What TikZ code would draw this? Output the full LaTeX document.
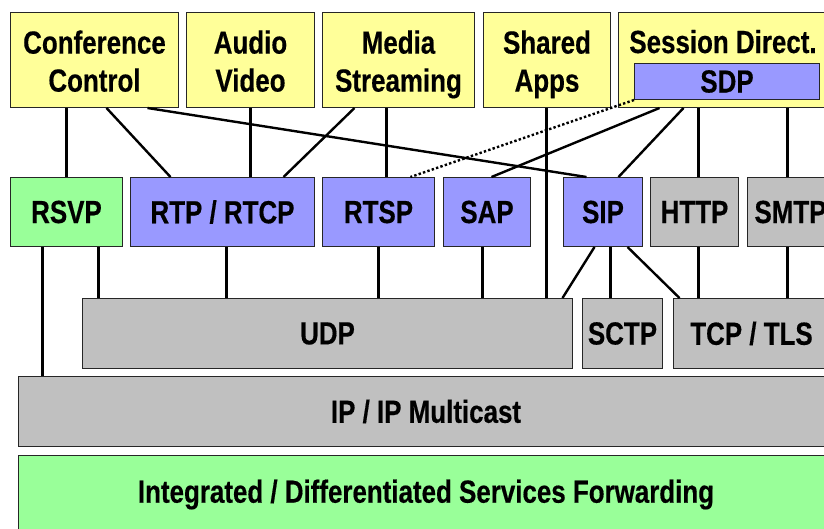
\documentclass[tikz,border=0pt]{standalone}
\usepackage{fontspec}
\setmainfont{Liberation Sans}[FakeStretch=0.81,FakeBold=0.4]
\definecolor{ylw}{HTML}{FFFF99}
\definecolor{blu}{HTML}{9999FF}
\definecolor{grn}{HTML}{99FF99}
\definecolor{gry}{HTML}{C0C0C0}
\newcommand\tstrutA{\rule[-11.4pt]{0pt}{48pt}}
\newcommand\tstrutB{\rule[-11.4pt]{0pt}{38pt}}
\begin{document}
\begin{tikzpicture}[x=1pt,y=-1pt,
  box/.style={draw=black!85,line width=1pt,inner sep=0pt,anchor=north west,align=center,
    font=\fontsize{32}{38}\selectfont\bfseries},
  conn/.style={line width=2.4pt,black},
  dotconn/.style={line width=2.4pt,black,dash pattern=on 2.4pt off 2.2pt}]
\useasboundingbox (0,0) rectangle (824,528);
\clip (0,0) rectangle (824,528);
% top row
\node[box,fill=ylw,minimum width=168,minimum height=95] (cc) at (10,12) {\tstrutA Conference\\\tstrutB Control};
\node[box,fill=ylw,minimum width=128,minimum height=95] (av) at (186,12) {\tstrutA Audio\\\tstrutB Video};
\node[box,fill=ylw,minimum width=152,minimum height=95] (ms) at (322,12) {\tstrutA Media\\\tstrutB Streaming};
\node[box,fill=ylw,minimum width=127,minimum height=95] (sa) at (483,12) {\tstrutA Shared\\\tstrutB Apps};
\node[box,fill=ylw,minimum width=212,minimum height=95] (sd) at (618,12) {};
\node[font=\fontsize{32}{38}\selectfont\bfseries,inner sep=0pt,anchor=base] (sdt) at (723,53) {Session Direct.};
\node[box,fill=blu,minimum width=185,minimum height=36] (sdp) at (634,63) {SDP};
% second row
\node[box,fill=grn,minimum width=112,minimum height=69] (rsvp) at (10,177) {RSVP};
\node[box,fill=blu,minimum width=184,minimum height=69] (rtp) at (130,177) {RTP / RTCP};
\node[box,fill=blu,minimum width=112,minimum height=69] (rtsp) at (322,177) {RTSP};
\node[box,fill=blu,minimum width=87,minimum height=69] (sap) at (443,177) {SAP};
\node[box,fill=blu,minimum width=79,minimum height=69] (sip) at (563,177) {SIP};
\node[box,fill=gry,minimum width=88,minimum height=69] (http) at (650,177) {HTTP};
\node[box,fill=gry,minimum width=86,minimum height=69] (smtp) at (747,177) {SMTP};
% third row
\node[box,fill=gry,minimum width=490,minimum height=70] (udp) at (82,298) {UDP};
\node[box,fill=gry,minimum width=80,minimum height=70] (sctp) at (582,298) {SCTP};
\node[box,fill=gry,minimum width=156,minimum height=70] (tcp) at (673,298) {TCP / TLS};
% bottom
\node[box,fill=gry,minimum width=815,minimum height=70] (ip) at (18,376) {IP / IP Multicast};
\node[box,fill=grn,minimum width=815,minimum height=78] (fwd) at (18,455) {Integrated / Differentiated Services Forwarding};
% connectors top -> second
\draw[conn] ([xshift=-28pt]cc.south) -- ([xshift=0pt]rsvp.north);
\draw[conn] ([xshift=12pt]cc.south) -- ([xshift=-52pt]rtp.north);
\draw[conn] ([xshift=53pt]cc.south) -- ([xshift=-16.5pt]sip.north);
\draw[conn] (av.south) -- ([xshift=28pt]rtp.north);
\draw[conn] ([xshift=-44pt]ms.south) -- ([xshift=61pt]rtp.north);
\draw[conn] ([xshift=-12pt]ms.south) -- ([xshift=8pt]rtsp.north);
\draw[conn] ([xshift=-0.5pt]sa.south) -- ([xshift=219pt]udp.north);
\draw[dotconn] (sdp.south west) -- ([xshift=32pt]rtsp.north);
\draw[conn] ([xshift=-65pt]sd.south) -- ([xshift=4.5pt]sap.north);
\draw[conn] ([xshift=-41pt]sd.south) -- ([xshift=15.5pt]sip.north);
\draw[conn] ([xshift=-26pt]sd.south) -- ([xshift=4pt]http.north);
\draw[conn] ([xshift=63pt]sd.south) -- ([xshift=-3pt]smtp.north);
% second -> third
\draw[conn] ([xshift=-24pt]rsvp.south) -- ([xshift=-383.5pt]ip.north);
\draw[conn] ([xshift=32pt]rsvp.south) -- ([xshift=-229pt]udp.north);
\draw[conn] ([xshift=4pt]rtp.south) -- ([xshift=-101pt]udp.north);
\draw[conn] (rtsp.south) -- ([xshift=51pt]udp.north);
\draw[conn] ([xshift=-4.5pt]sap.south) -- ([xshift=155pt]udp.north);
\draw[conn] ([xshift=-8.5pt]sip.south) -- ([xshift=235pt]udp.north);
\draw[conn] ([xshift=7.5pt]sip.south) -- ([xshift=-12pt]sctp.north);
\draw[conn] ([xshift=24.5pt]sip.south) -- ([xshift=-72pt]tcp.north);
\draw[conn] ([xshift=4pt]http.south) -- ([xshift=-53pt]tcp.north);
\draw[conn] ([xshift=-3pt]smtp.south) -- ([xshift=36pt]tcp.north);
\end{tikzpicture}
\end{document}
